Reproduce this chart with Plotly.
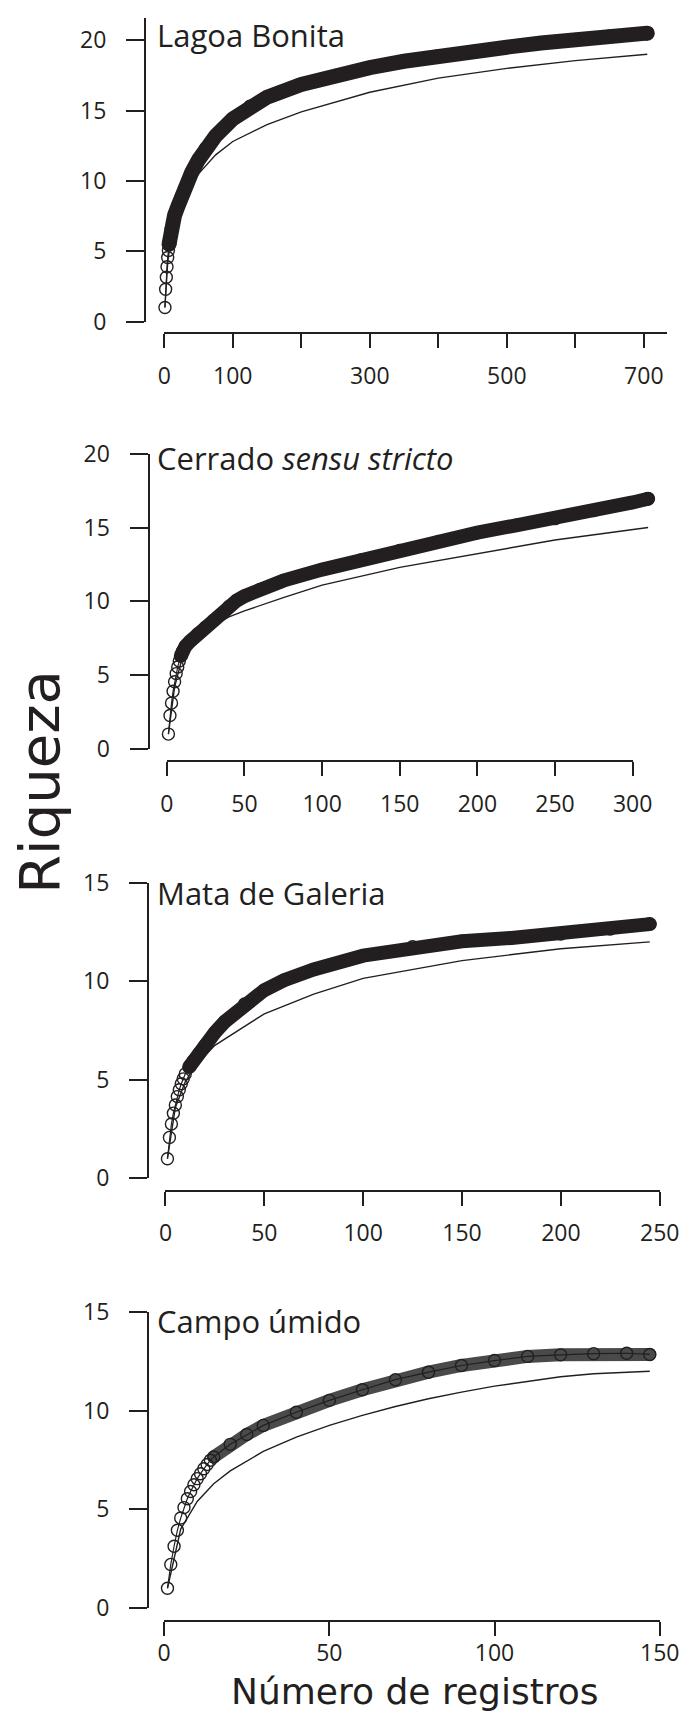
import plotly.graph_objects as go

# ---------------- data ----------------
titles = ["Lagoa Bonita", "Cerrado <i>sensu stricto</i>", "Mata de Galeria", "Campo úmido"]

lb_x = [1, 2, 3, 4, 5, 6, 7, 8, 10, 12, 15, 20, 25, 30, 40, 50, 60, 75, 100, 125, 150,
        200, 250, 300, 350, 400, 450, 500, 550, 600, 650, 705]
lb_y = [1.0, 2.3, 3.15, 3.9, 4.55, 5.05, 5.5, 5.9, 6.6, 7.05, 7.55, 8.2, 8.9, 9.5, 10.6, 11.5,
        12.3, 13.2, 14.4, 15.3, 15.95, 16.85, 17.5, 18.05, 18.5, 18.9, 19.2, 19.5, 19.8, 20.05,
        20.3, 20.5]
lb_fit_x = [1, 5, 10, 15, 25, 50, 75, 100, 150, 200, 300, 400, 500, 600, 705]
lb_fit_y = [1.0, 4.2, 6.0, 7.1, 8.5, 10.5, 11.85, 12.8, 14.0, 14.9, 16.3, 17.3, 18.0, 18.55, 19.0]

cs_x = [1, 2, 3, 4, 5, 6, 7, 8, 9, 10, 12, 15, 20, 25, 30, 40, 45, 50, 60, 75, 100, 125, 150,
        175, 200, 225, 250, 275, 300, 310]
cs_y = [1.0, 2.26, 3.1, 3.9, 4.55, 5.1, 5.55, 5.95, 6.3, 6.6, 6.95, 7.3, 7.8, 8.25, 8.7, 9.65,
        10.05, 10.35, 10.8, 11.4, 12.15, 12.8, 13.45, 14.05, 14.65, 15.15, 15.6, 16.15, 16.7, 16.95]
cs_fit_x = [1, 5, 10, 15, 20, 30, 40, 50, 75, 100, 150, 200, 250, 310]
cs_fit_y = [1.0, 4.2, 6.2, 6.95, 7.45, 8.35, 8.95, 9.35, 10.25, 11.1, 12.3, 13.25, 14.15, 15.0]

mg_x = [1, 2, 3, 4, 5, 6, 7, 8, 9, 10, 12, 14, 17, 20, 25, 30, 40, 50, 60, 75, 100, 125, 150,
        175, 200, 225, 245]
mg_y = [1.0, 2.08, 2.76, 3.31, 3.72, 4.15, 4.5, 4.8, 5.05, 5.3, 5.65, 5.95, 6.35, 6.75, 7.4,
        7.95, 8.85, 9.55, 10.05, 10.6, 11.3, 11.75, 12.03, 12.2, 12.4, 12.65, 12.9]
mg_fit_x = [1, 5, 10, 15, 25, 50, 75, 100, 150, 200, 245]
mg_fit_y = [1.0, 3.6, 4.9, 5.7, 6.75, 8.35, 9.35, 10.15, 11.05, 11.65, 12.0]

cu_x = [1, 2, 3, 4, 5, 6, 7, 8, 9, 10, 11, 12, 13, 14, 15, 20, 25, 30, 40, 50, 60, 70, 80, 90,
        100, 110, 120, 130, 140, 147]
cu_y = [1.0, 2.21, 3.13, 3.94, 4.56, 5.09, 5.54, 5.91, 6.25, 6.56, 6.81, 7.06, 7.28, 7.49, 7.66,
        8.3, 8.8, 9.26, 9.93, 10.53, 11.07, 11.58, 11.96, 12.3, 12.55, 12.76, 12.84, 12.9, 12.92,
        12.86]
cu_fit_x = [1, 5, 10, 15, 20, 30, 40, 50, 60, 70, 80, 90, 100, 110, 120, 130, 147]
cu_fit_y = [1.0, 4.0, 5.4, 6.3, 6.95, 7.94, 8.67, 9.26, 9.77, 10.22, 10.61, 10.95, 11.25, 11.5,
            11.73, 11.88, 12.01]

x_ticks = [list(range(0, 701, 100)), list(range(0, 301, 50)), list(range(0, 251, 50)), [0, 50, 100, 150]]
x_ticktext = [["0", "100", "", "300", "", "500", "", "700"],
              ["0", "50", "100", "150", "200", "250", "300"],
              ["0", "50", "100", "150", "200", "250"],
              ["0", "50", "100", "150"]]
y_ticks = [[0, 5, 10, 15, 20], [0, 5, 10, 15, 20], [0, 5, 10, 15], [0, 5, 10, 15]]
y_label = "Riqueza"
x_label = "Número de registros"

series = [(lb_x, lb_y, lb_fit_x, lb_fit_y), (cs_x, cs_y, cs_fit_x, cs_fit_y),
          (mg_x, mg_y, mg_fit_x, mg_fit_y), (cu_x, cu_y, cu_fit_x, cu_fit_y)]

# ---------------- geometry ----------------
W, H = 688, 1728
# measured mapping page -> photographed picture (picture = O + S * page)
SX, OX = 0.964, 5.5
SY, OY = 0.9825, 15.1


def PX(t):  # target picture x -> page x
    return (t - OX) / SX


def PY(t):  # target picture y -> page y
    return (t - OY) / SY


# geometry in picture pixels (as measured on the reference)
geo = [
    dict(x0=163.3, xu=0.6874, y0=320.0, yu=14.085, yax=144.0, xay=331.7, xend=734, ytop=21.6,
         band=(15.2, 400), bstart=7, bw=15, bcol="#231f20", xstand=8),
    dict(x0=165.9, xu=1.5577, y0=747.7, yu=14.77, yax=147.5, xay=760.0, xend=300, ytop=20,
         band=(420, 830), bstart=9, bw=14, bcol="#231f20", xstand=8),
    dict(x0=164.5, xu=1.9836, y0=1177.7, yu=19.733, yax=147.0, xay=1190.0, xend=250, ytop=15,
         band=(850, 1260), bstart=12, bw=14, bcol="#231f20", xstand=8),
    dict(x0=163.2, xu=3.3147, y0=1607.7, yu=19.733, yax=147.0, xay=1620.7, xend=150, ytop=15,
         band=(1280, 1712), bstart=15, bw=13, bcol="#4a4a4a", xstand=-3),
]
title_cap_y = [None, 458.0, 893.0, 1321.7]
INK = "#231f20"
FONT = "Open Sans"
WIDE_FONT = "DejaVu Sans"

fig = go.Figure()
layout = dict(width=W, height=H, margin=dict(l=0, r=0, t=0, b=0), autosize=False,
              paper_bgcolor="white", plot_bgcolor="rgba(0,0,0,0)", showlegend=False)
annotations = []

for k, (g, (ox, oy, fxs, fys)) in enumerate(zip(geo, series), start=1):
    dk = k + 4
    xa, ya = f"x{k}", f"y{k}"
    x0p, xup = PX(g["x0"]), g["xu"] / SX
    y0p, yup = PY(g["y0"]), g["yu"] / SY

    fig.add_trace(go.Scatter(x=fxs, y=fys, mode="lines", line=dict(color=INK, width=1.4),
                             xaxis=xa, yaxis=ya, hoverinfo="skip"))
    bx = [x for x in ox if x >= g["bstart"]]
    by = [y for x, y in zip(ox, oy) if x >= g["bstart"]]
    fig.add_trace(go.Scatter(x=bx, y=by, mode="lines", line=dict(color=g["bcol"], width=g["bw"]),
                             xaxis=xa, yaxis=ya, hoverinfo="skip"))
    fig.add_trace(go.Scatter(x=[bx[0], bx[-1]], y=[by[0], by[-1]], mode="markers",
                             marker=dict(symbol="circle", size=g["bw"], color=g["bcol"],
                                         line=dict(width=0)),
                             cliponaxis=False, xaxis=xa, yaxis=ya, hoverinfo="skip"))
    fig.add_trace(go.Scatter(x=ox, y=oy, mode="lines+markers",
                             line=dict(color=INK, width=1.2),
                             marker=dict(symbol="circle-open", size=12, color=INK,
                                         line=dict(width=1.4, color=INK)),
                             cliponaxis=False, xaxis=xa, yaxis=ya, hoverinfo="skip"))
    fig.add_trace(go.Scatter(x=[], y=[], xaxis=f"x{dk}", yaxis=f"y{dk}"))

    top, bot = PY(g["band"][0]), PY(g["band"][1])
    layout[f"xaxis{k}"] = dict(domain=[0, 1], range=[-x0p / xup, (W - x0p) / xup],
                               visible=False, anchor=ya)
    layout[f"yaxis{k}"] = dict(domain=[1 - bot / H, 1 - top / H],
                               range=[(y0p - bot) / yup, (y0p - top) / yup],
                               visible=False, anchor=xa)
    xe_p = x0p + g["xend"] * xup
    yt_p = y0p - g["ytop"] * yup
    layout[f"xaxis{dk}"] = dict(domain=[x0p / W, xe_p / W], range=[0, g["xend"]],
                                anchor="free", position=1 - PY(g["xay"]) / H,
                                showline=True, linewidth=2, linecolor=INK, showgrid=False,
                                zeroline=False, ticks="outside", ticklen=14, tickwidth=2,
                                tickcolor=INK, tickmode="array", tickvals=x_ticks[k - 1],
                                ticktext=x_ticktext[k - 1], ticklabelstandoff=g["xstand"],
                                tickfont=dict(family=FONT, size=23, color=INK))
    layout[f"yaxis{dk}"] = dict(domain=[1 - y0p / H, 1 - yt_p / H], range=[0, g["ytop"]],
                                anchor="free", position=PX(g["yax"]) / W,
                                showline=True, linewidth=2, linecolor=INK, showgrid=False,
                                zeroline=False, ticks="outside", ticklen=18, tickwidth=2,
                                tickcolor=INK, tickmode="array", tickvals=y_ticks[k - 1],
                                ticklabelstandoff=15,
                                tickfont=dict(family=FONT, size=23, color=INK))
    if k == 1:
        annotations.append(dict(text=titles[0], xref="paper", yref="paper", x=154.5 / W,
                                y=1 + 5 / H, xanchor="left", yanchor="top",
                                showarrow=False, font=dict(family=FONT, size=31, color=INK)))
    else:
        annotations.append(dict(text=titles[k - 1], xref="paper", yref="paper", x=154.5 / W,
                                y=1 - (PY(title_cap_y[k - 1]) - 1) / H, xanchor="left",
                                yanchor="middle", showarrow=False,
                                font=dict(family=FONT, size=31, color=INK)))

annotations.append(dict(text=y_label, xref="paper", yref="paper", x=33 / W, y=1 - PY(781) / H,
                        textangle=-90, xanchor="center", yanchor="middle", showarrow=False,
                        font=dict(family=WIDE_FONT, size=56, color=INK)))
annotations.append(dict(text=x_label, xref="paper", yref="paper", x=PX(415) / W, y=-1 / H,
                        xanchor="center", yanchor="bottom", showarrow=False,
                        font=dict(family=WIDE_FONT, size=36, color=INK)))
layout["annotations"] = annotations
fig.update_layout(**layout)
fig.write_html("out.html", config={"displayModeBar": False},
               post_script="document.body.style.margin='0px';document.body.style.padding='0px';"
                           "document.documentElement.style.overflow='hidden';")
